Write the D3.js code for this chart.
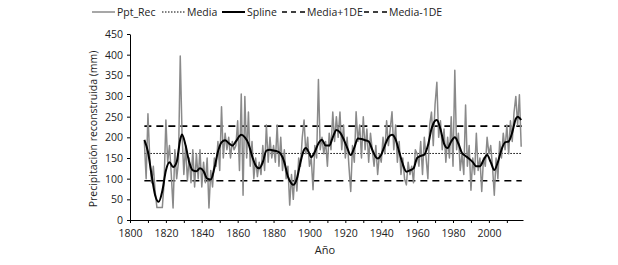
<!DOCTYPE html>
<html>
<head>
<meta charset="utf-8">
<script src="https://cdn.jsdelivr.net/npm/d3@7"></script>
<style>
  body { margin: 0; background: #fff; }
  text { font-family: "Open Sans", sans-serif; }
</style>
</head>
<body>
<svg id="chart"></svg>
<script>
// annual reconstructed precipitation (mm), 1808-2018
const firstYear = 1808
const pptRec = [
  190, 100, 257, 150, 90, 130, 70, 30, 30, 30,        // 1808-1817
  30, 90, 242, 140, 180, 110, 29, 170, 100, 140,      // 1818-1827
  397, 210, 110, 180, 95, 150, 90, 170, 80, 160,      // 1828-1837
  100, 170, 80, 140, 90, 150, 29, 120, 80, 150,       // 1838-1847
  130, 190, 120, 274, 150, 210, 170, 200, 150, 190,   // 1848-1857
  170, 180, 240, 120, 305, 60, 299, 150, 261, 130,    // 1858-1867
  190, 100, 150, 105, 140, 110, 180, 120, 230, 140,   // 1868-1877
  200, 150, 180, 140, 230, 130, 200, 120, 170, 100,   // 1878-1887
  130, 36, 110, 50, 120, 70, 150, 130, 200, 242,      // 1888-1897
  160, 200, 130, 150, 73, 180, 150, 340, 170, 200,    // 1898-1907
  160, 190, 130, 210, 170, 261, 190, 250, 200, 261,   // 1908-1917
  170, 230, 150, 200, 130, 69, 180, 140, 262, 190,    // 1918-1927
  230, 150, 250, 170, 220, 140, 210, 170, 130, 180,   // 1928-1937
  110, 160, 140, 200, 160, 240, 180, 220, 262, 170,   // 1938-1947
  230, 140, 190, 110, 150, 100, 85, 140, 110, 130,    // 1948-1957
  90, 170, 160, 130, 190, 110, 200, 150, 100, 230,    // 1958-1967
  261, 180, 280, 333, 200, 240, 170, 220, 140, 200,   // 1968-1977
  150, 250, 130, 362, 170, 210, 120, 160, 110, 278,   // 1978-1987
  130, 180, 72, 150, 110, 210, 120, 150, 69, 150,     // 1988-1997
  130, 200, 160, 180, 130, 60, 150, 100, 190, 150,    // 1998-2007
  210, 170, 230, 160, 240, 190, 260, 299, 230, 303,   // 2008-2017
  177                                                 // 2018
]
const years = pptRec.map((d, i) => firstYear + i)

// smoothing spline, read at knots
const splineYears = [1808, 1810, 1812, 1814, 1816, 1818, 1820, 1822, 1824, 1826, 1828, 1829, 1831, 1833,
  1835, 1837, 1839, 1841, 1843, 1845, 1847, 1849, 1851, 1853, 1855, 1857, 1859, 1861, 1862, 1864, 1866,
  1868, 1870, 1872, 1874, 1876, 1878, 1880, 1882, 1884, 1886, 1888, 1890, 1891, 1893, 1895, 1897, 1898,
  1900, 1901, 1903, 1905, 1907, 1909, 1911, 1913, 1915, 1917, 1919, 1921, 1923, 1925, 1927, 1929, 1931,
  1933, 1935, 1937, 1938, 1940, 1942, 1944, 1946, 1948, 1950, 1952, 1954, 1956, 1958, 1960, 1962, 1964,
  1966, 1968, 1970, 1971, 1973, 1975, 1977, 1979, 1981, 1983, 1985, 1987, 1989, 1991, 1993, 1995, 1997,
  1999, 2001, 2003, 2005, 2007, 2009, 2011, 2013, 2015, 2016, 2018]
const splineVals = [194, 165, 110, 60, 44, 70, 120, 140, 128, 140, 195, 207, 180, 140,
  120, 118, 125, 118, 100, 98, 125, 165, 188, 193, 186, 180, 190, 203, 206, 200, 185,
  155, 132, 125, 140, 168, 170, 168, 166, 160, 140, 105, 88, 85, 100, 140, 170, 174,
  160, 152, 165, 185, 194, 180, 180, 200, 218, 212, 196, 175, 157, 175, 197, 196, 193,
  190, 170, 152, 149, 158, 180, 200, 206, 195, 165, 135, 117, 120, 125, 150, 155, 158,
  180, 220, 240, 242, 220, 185, 174, 190, 200, 185, 162, 155, 148, 140, 130, 130, 145,
  157, 140, 121, 140, 170, 188, 190, 212, 245, 250, 242]

const media = 161
const de = 66
const xTicks = d3.range(1800, 2011, 10)
const yTicks = d3.range(0, 451, 50)

const width = 618, height = 265
const margin = {left: 130, right: 95, top: 34, bottom: 45}

const svg = d3.select('#chart')
    .attr('width', width)
    .attr('height', height)

const x = d3.scaleLinear().domain([1800, 2019]).range([margin.left, width - margin.right])
const y = d3.scaleLinear().domain([0, 450]).range([height - margin.bottom, margin.top])

// axes
const xAxis = svg.append('g')
    .attr('transform', `translate(0,${y(0)})`)
    .call(d3.axisBottom(x).tickValues(xTicks).tickSize(3).tickSizeOuter(0)
        .tickFormat(d => d % 20 === 0 ? d : ''))
xAxis.select('.domain').attr('stroke', '#000')
xAxis.selectAll('text').attr('font-size', 10.5).attr('fill', '#222').attr('dy', '1em')

const yAxis = svg.append('g')
    .attr('transform', `translate(${x(1800)},0)`)
    .call(d3.axisLeft(y).tickValues(yTicks).tickSize(3).tickSizeOuter(0))
yAxis.selectAll('text').attr('font-size', 10.5).attr('fill', '#222').attr('dx', '-0.1em')

// labels
svg.append('text')
    .attr('x', 325).attr('y', 254)
    .attr('text-anchor', 'middle')
    .attr('font-size', 11).attr('fill', '#222')
    .text('Año')
svg.append('text')
    .attr('transform', `translate(97,${(y(0) + y(450)) / 2 + 2}) rotate(-90)`)
    .attr('text-anchor', 'middle')
    .attr('font-size', 10.5).attr('fill', '#222')
    .text('Precipitación reconstruida (mm)')

// reference lines
const lineEnds = [years[0], years[years.length - 1] + 0.3]
const refLines = [
  {v: media, dash: '1.5,1.5', w: 1},
  {v: media + de, dash: '7,5', w: 1.6},
  {v: media - de, dash: '7,5', w: 1.6}
]
svg.append('g').selectAll('line')
    .data(refLines)
    .join('line')
        .attr('x1', x(lineEnds[0]))
        .attr('x2', x(lineEnds[1]))
        .attr('y1', d => y(d.v))
        .attr('y2', d => y(d.v))
        .attr('stroke', '#000')
        .attr('stroke-width', d => d.w)
        .attr('stroke-dasharray', d => d.dash)

// series
const line = d3.line().x(d => x(d[0])).y(d => y(d[1]))
svg.append('path')
    .datum(years.map((yr, i) => [yr, pptRec[i]]))
    .attr('d', line)
    .attr('fill', 'none')
    .attr('stroke', '#8a8a8a')
    .attr('stroke-width', 1.5)
    .attr('stroke-linejoin', 'round')

svg.append('path')
    .datum(splineYears.map((yr, i) => [yr, splineVals[i]]))
    .attr('d', line.curve(d3.curveMonotoneX))
    .attr('fill', 'none')
    .attr('stroke', '#000')
    .attr('stroke-width', 2)

// legend
const legendItems = [
  {label: 'Ppt_Rec', x: 92, stroke: '#8a8a8a', w: 1.5, dash: null},
  {label: 'Media', x: 162, stroke: '#000', w: 1, dash: '1.5,1.5'},
  {label: 'Spline', x: 222, stroke: '#000', w: 2, dash: null},
  {label: 'Media+1DE', x: 282, stroke: '#000', w: 1.6, dash: '5,4'},
  {label: 'Media-1DE', x: 364, stroke: '#000', w: 1.6, dash: '5,4'}
]
const legend = svg.append('g')
    .selectAll('g')
    .data(legendItems)
    .join('g')
        .attr('transform', d => `translate(${d.x},12)`)
legend.append('line')
    .attr('x1', 0).attr('x2', 23)
    .attr('stroke', d => d.stroke)
    .attr('stroke-width', d => d.w)
    .attr('stroke-dasharray', d => d.dash)
legend.append('text')
    .attr('x', 25).attr('dy', '0.35em')
    .attr('font-size', 10.5).attr('fill', '#222')
    .text(d => d.label)
</script>
</body>
</html>
